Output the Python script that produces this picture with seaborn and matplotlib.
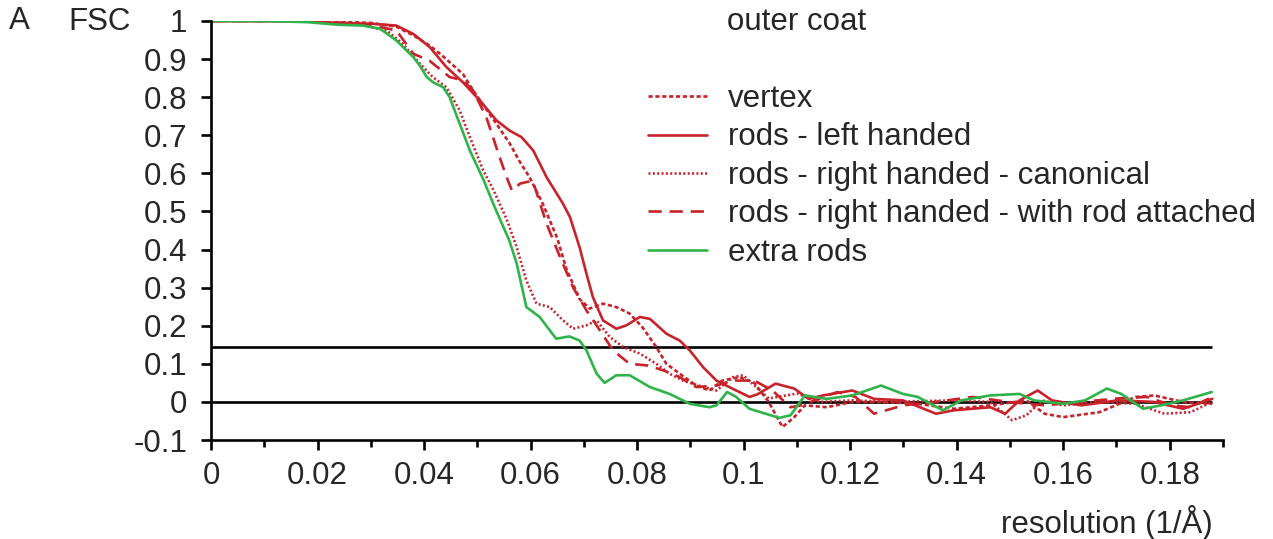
import matplotlib
matplotlib.use('Agg')
import matplotlib.pyplot as plt
import pandas as pd
import seaborn as sns

# FSC curves: (resolution 1/A, FSC)
vertex = [(0, 1.0), (0.02, 1.0), (0.03, 0.995), (0.0348, 0.985), (0.038, 0.962), (0.0411, 0.935),
          (0.043, 0.914), (0.0473, 0.861), (0.0492, 0.818), (0.0511, 0.78), (0.0536, 0.73),
          (0.0561, 0.678), (0.058, 0.63), (0.0598, 0.59), (0.0623, 0.52), (0.065, 0.43),
          (0.0667, 0.35), (0.0692, 0.27), (0.0711, 0.245), (0.0736, 0.258), (0.0761, 0.249),
          (0.0786, 0.232), (0.081, 0.196), (0.0836, 0.144), (0.0855, 0.10), (0.088, 0.074),
          (0.0911, 0.043), (0.0936, 0.03), (0.096, 0.056), (0.0992, 0.065), (0.102, 0.05),
          (0.1047, 0.0), (0.1073, -0.066), (0.1095, -0.04), (0.1115, -0.009), (0.1156, -0.014),
          (0.1204, 0.0), (0.1258, 0.0), (0.1327, -0.005), (0.1395, -0.018), (0.1463, -0.009),
          (0.1531, 0.004), (0.1565, -0.031), (0.16, -0.04), (0.1668, -0.027), (0.1736, 0.013),
          (0.1771, 0.017), (0.1825, 0.0), (0.188, -0.005)]

left_handed = [(0, 1.0), (0.02, 1.0), (0.0223, 0.995), (0.03, 0.993), (0.0348, 0.988), (0.038, 0.966),
               (0.0411, 0.931), (0.0442, 0.879), (0.0473, 0.839), (0.0505, 0.791), (0.0536, 0.739),
               (0.0561, 0.712), (0.0583, 0.695), (0.0605, 0.66), (0.063, 0.59), (0.0661, 0.52),
               (0.0674, 0.485), (0.0692, 0.406), (0.0705, 0.336), (0.0717, 0.275), (0.0736, 0.214),
               (0.0761, 0.192), (0.078, 0.201), (0.0805, 0.223), (0.0824, 0.218), (0.0855, 0.179),
               (0.088, 0.161), (0.0899, 0.135), (0.0924, 0.091), (0.0949, 0.056), (0.0986, 0.03),
               (0.1011, 0.013), (0.1026, 0.02), (0.106, 0.048), (0.1095, 0.035), (0.1122, 0.008),
               (0.1149, 0.017), (0.1204, 0.03), (0.1245, 0.008), (0.1299, 0.004), (0.1361, -0.031),
               (0.1395, -0.022), (0.1463, -0.014), (0.1491, -0.031), (0.1518, 0.004), (0.1552, 0.03),
               (0.1579, 0.004), (0.1634, -0.009), (0.1702, 0.004), (0.177, 0.0), (0.1825, -0.018),
               (0.188, 0.008)]

canonical = [(0, 1.0), (0.02, 1.0), (0.028, 0.99), (0.033, 0.975), (0.036, 0.94), (0.0392, 0.888),
             (0.0417, 0.852), (0.0442, 0.826), (0.0467, 0.765), (0.0486, 0.695), (0.0511, 0.608),
             (0.0529, 0.56), (0.0555, 0.48), (0.0574, 0.406), (0.0592, 0.319), (0.0611, 0.258),
             (0.0636, 0.249), (0.0661, 0.214), (0.068, 0.192), (0.0705, 0.201), (0.0724, 0.214),
             (0.0749, 0.17), (0.0774, 0.144), (0.0805, 0.127), (0.0836, 0.10), (0.0861, 0.074),
             (0.0886, 0.056), (0.0924, 0.039), (0.0949, 0.03), (0.098, 0.065), (0.0999, 0.07),
             (0.1047, 0.009), (0.1101, 0.022), (0.1142, 0.0), (0.1204, 0.004), (0.1272, 0.0),
             (0.1395, 0.004), (0.1463, 0.0), (0.1504, -0.048), (0.1531, -0.035), (0.156, 0.004),
             (0.16, -0.009), (0.1668, 0.0), (0.1736, -0.005), (0.179, -0.031), (0.1839, -0.027),
             (0.188, 0.0)]

attached = [(0, 1.0), (0.02, 1.0), (0.03, 0.99), (0.0348, 0.975), (0.038, 0.914), (0.041, 0.896),
            (0.0448, 0.853), (0.0473, 0.844), (0.0492, 0.818), (0.0517, 0.747), (0.0542, 0.642),
            (0.0555, 0.59), (0.0565, 0.555), (0.058, 0.573), (0.0604, 0.581), (0.063, 0.468),
            (0.0655, 0.381), (0.068, 0.30), (0.0705, 0.24), (0.073, 0.188), (0.0755, 0.135),
            (0.0786, 0.10), (0.0818, 0.096), (0.0849, 0.083), (0.088, 0.065), (0.0911, 0.039),
            (0.0949, 0.043), (0.098, 0.056), (0.102, 0.056), (0.1054, 0.03), (0.1088, -0.014),
            (0.1108, -0.009), (0.1176, 0.026), (0.121, 0.013), (0.1245, -0.031), (0.13, -0.009),
            (0.136, 0.0), (0.143, 0.013), (0.1497, 0.0), (0.1565, -0.009), (0.1634, 0.0),
            (0.1702, 0.009), (0.1757, 0.013), (0.1804, -0.009), (0.1839, -0.014), (0.188, 0.013)]

extra_rods = [(0, 1.0), (0.01, 1.0), (0.018, 0.997), (0.024, 0.99), (0.0285, 0.988), (0.0317, 0.98),
              (0.0348, 0.949), (0.038, 0.905), (0.0392, 0.883), (0.0405, 0.853), (0.0417, 0.839),
              (0.0436, 0.826), (0.0448, 0.80), (0.0467, 0.73), (0.0486, 0.66), (0.0511, 0.585),
              (0.0533, 0.51), (0.056, 0.424), (0.0574, 0.363), (0.0592, 0.249), (0.0617, 0.223),
              (0.0636, 0.188), (0.0648, 0.166), (0.0673, 0.172), (0.0692, 0.161), (0.0705, 0.135),
              (0.0724, 0.074), (0.0739, 0.05), (0.0761, 0.07), (0.0786, 0.07), (0.0824, 0.039),
              (0.0861, 0.021), (0.0899, -0.005), (0.0936, -0.014), (0.0949, -0.009), (0.0969, 0.026),
              (0.0986, 0.013), (0.1011, -0.018), (0.1067, -0.042), (0.1088, -0.035), (0.1115, 0.017),
              (0.1156, 0.008), (0.1204, 0.017), (0.1258, 0.043), (0.1299, 0.021), (0.1327, 0.013),
              (0.1374, -0.022), (0.1409, 0.004), (0.1463, 0.017), (0.1518, 0.021), (0.1545, 0.004),
              (0.16, -0.005), (0.1641, 0.004), (0.1682, 0.035), (0.1709, 0.021), (0.175, -0.018),
              (0.1784, -0.009), (0.1825, 0.004), (0.1879, 0.026)]

labels = ['vertex', 'rods - left handed', 'rods - right handed - canonical',
          'rods - right handed - with rod attached', 'extra rods']
curves = [vertex, left_handed, canonical, attached, extra_rods]
thresholds = [0.143, 0.0]

x_major = [0, 0.02, 0.04, 0.06, 0.08, 0.1, 0.12, 0.14, 0.16, 0.18]
x_major_labels = ['0', '0.02', '0.04', '0.06', '0.08', '0.1', '0.12', '0.14', '0.16', '0.18']
x_minor = [0.01, 0.03, 0.05, 0.07, 0.09, 0.11, 0.13, 0.15, 0.17, 0.19]
y_ticks = [1, 0.9, 0.8, 0.7, 0.6, 0.5, 0.4, 0.3, 0.2, 0.1, 0, -0.1]
y_tick_labels = ['1', '0.9', '0.8', '0.7', '0.6', '0.5', '0.4', '0.3', '0.2', '0.1', '0', '-0.1']

RED = '#c8232b'
GREEN = '#2fb34b'
styles = {
    'vertex': dict(color=RED, linestyle=(0, (1.6, 1.0))),
    'rods - left handed': dict(color=RED, linestyle='-'),
    'rods - right handed - canonical': dict(color=RED, linestyle=(0, (0.75, 0.9))),
    'rods - right handed - with rod attached': dict(color=RED, linestyle=(0, (5.0, 3.0))),
    'extra rods': dict(color=GREEN, linestyle='-'),
}
FS = 22.5

sns.set_style('ticks')
plt.rcParams['font.family'] = ['Liberation Sans', 'DejaVu Sans']

W, H = 1273, 539
fig = plt.figure(figsize=(W / 100, H / 100), dpi=100)
ax = fig.add_axes([211 / W, 1 - 440 / H, (1223 - 211) / W, (440 - 21) / H])

for y in thresholds:
    ax.hlines(y, 0, 0.188, color='black', lw=1.9, zorder=1)

for name, pts in zip(labels, curves):
    df = pd.DataFrame(pts, columns=['resolution', 'fsc'])
    sns.lineplot(data=df, x='resolution', y='fsc', ax=ax, label=name,
                 lw=1.9, estimator=None, sort=False, zorder=2, **styles[name])

ax.set_xlim(0, 0.19)
ax.set_ylim(-0.1, 1.0)
ax.set_xticks(x_major)
ax.set_xticklabels(x_major_labels)
ax.set_xticks(x_minor, minor=True)
ax.set_yticks(y_ticks)
ax.set_yticklabels(y_tick_labels)
ax.set_xlabel('')
ax.set_ylabel('')
ax.tick_params(axis='both', which='major', labelsize=FS, length=7, width=1.9, color='black')
ax.tick_params(axis='x', which='major', pad=8)
ax.tick_params(axis='y', which='major', pad=10)
ax.tick_params(axis='x', which='minor', length=5, width=1.9, color='black')
for side in ['top', 'right']:
    ax.spines[side].set_visible(False)
for side in ['left', 'bottom']:
    ax.spines[side].set_linewidth(1.9)
    ax.spines[side].set_color('black')
ax.set_facecolor('white')

ax.legend(loc='upper left', bbox_to_anchor=(648 / W, 1 - 84 / H), bbox_transform=fig.transFigure,
          frameon=False, fontsize=FS, handlelength=1.9, handletextpad=0.65,
          labelspacing=0.27, borderpad=0, borderaxespad=0)

fig.text(9 / W, 1 - 21 / H, 'A', fontsize=FS, ha='left', va='center')
fig.text(68 / W, 1 - 22 / H, 'FSC', fontsize=FS, ha='left', va='center')
fig.text(727 / W, 1 - 22 / H, 'outer coat', fontsize=FS, ha='left', va='center')
fig.text(1213 / W, 1 - 522 / H, 'resolution (1/Å)', fontsize=FS, ha='right', va='center')

fig.savefig('out.png', dpi=100, facecolor='white')
